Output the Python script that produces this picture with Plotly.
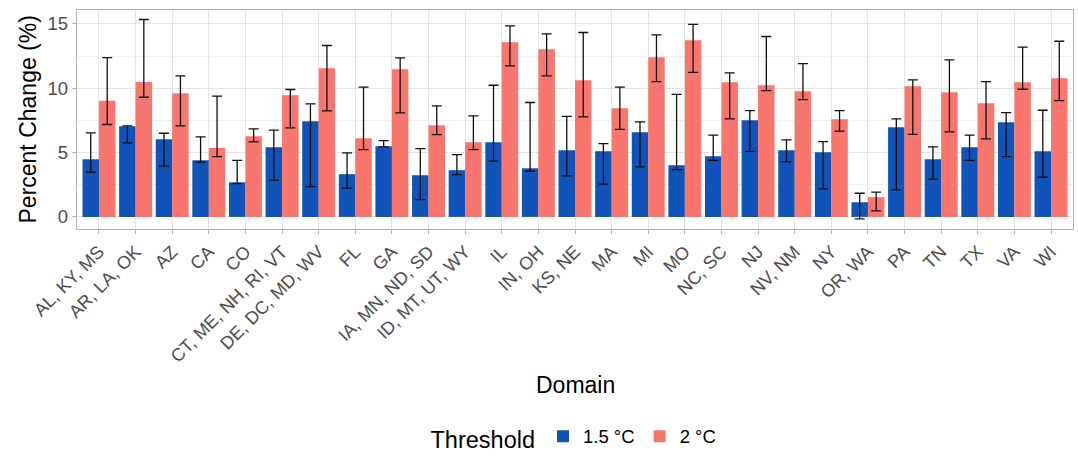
import plotly.graph_objects as go

domains = ["AL, KY, MS", "AR, LA, OK", "AZ", "CA", "CO", "CT, ME, NH, RI, VT",
           "DE, DC, MD, WV", "FL", "GA", "IA, MN, ND, SD", "ID, MT, UT, WY", "IL",
           "IN, OH", "KS, NE", "MA", "MI", "MO", "NC, SC", "NJ", "NV, NM", "NY",
           "OR, WA", "PA", "TN", "TX", "VA", "WI"]

t15_value = [4.48, 7.05, 6.04, 4.40, 2.69, 5.41, 7.44, 3.32, 5.49, 3.24, 3.63, 5.80, 3.78, 5.18,
             5.10, 6.58, 4.02, 4.72, 7.51, 5.18, 5.03, 1.14, 6.97, 4.48, 5.41, 7.36, 5.10]
t15_upper = [6.53, 7.07, 6.50, 6.22, 4.40, 6.74, 8.78, 4.97, 5.93, 5.31, 4.84, 10.23, 8.89, 7.82,
             5.70, 7.38, 9.53, 6.35, 8.26, 5.98, 5.85, 1.84, 7.62, 5.44, 6.35, 8.11, 8.29]
t15_lower = [3.47, 5.75, 3.94, 4.25, 2.59, 2.85, 2.36, 2.23, 5.44, 1.35, 3.29, 4.33, 3.55, 3.19,
             2.54, 3.89, 3.68, 4.40, 5.10, 4.27, 2.18, -0.16, 2.10, 2.93, 4.40, 4.69, 3.08]

t20_value = [9.02, 10.49, 9.61, 5.36, 6.27, 9.46, 11.55, 6.11, 11.48, 7.12, 5.80, 13.58, 13.03, 10.62,
             8.45, 12.41, 13.73, 10.47, 10.23, 9.77, 7.59, 1.53, 10.16, 9.69, 8.83, 10.47, 10.78]
t20_upper = [12.38, 15.34, 10.96, 9.38, 6.84, 9.90, 13.32, 10.08, 12.36, 8.63, 7.85, 14.84, 14.22, 14.33,
             10.08, 14.15, 14.97, 11.19, 14.02, 11.92, 8.26, 1.92, 10.65, 12.20, 10.52, 13.19, 13.65]
t20_lower = [7.18, 9.30, 7.07, 4.69, 5.83, 6.92, 8.24, 5.23, 8.08, 6.40, 5.23, 11.74, 10.96, 7.77,
             6.81, 10.52, 11.24, 7.62, 9.82, 9.12, 6.66, 0.47, 6.42, 6.61, 6.06, 9.92, 9.04]

series_names = ["1.5 °C", "2 °C"]
colors = ["#1053B9", "#F8766D"]

FONT = "Liberation Sans, Arial, Helvetica, sans-serif"

fig = go.Figure()
for name, color, val, up, lo in [
    (series_names[0], colors[0], t15_value, t15_upper, t15_lower),
    (series_names[1], colors[1], t20_value, t20_upper, t20_lower),
]:
    fig.add_trace(go.Bar(
        x=domains, y=val, name=name, marker=dict(color=color, line=dict(width=0)),
        error_y=dict(type="data", symmetric=False,
                     array=[u - v for u, v in zip(up, val)],
                     arrayminus=[v - l for v, l in zip(val, lo)],
                     color="#111111", thickness=1.3, width=5),
    ))

fig.update_layout(
    width=1078, height=457,
    margin=dict(l=77, r=5, t=10, b=228, autoexpand=False),
    paper_bgcolor="white", plot_bgcolor="white",
    barmode="group", bargap=0.1, bargroupgap=0.0,
    font=dict(family=FONT, color="black"),
    showlegend=True,
    legend=dict(orientation="h", x=0.5, xanchor="center", y=-0.955, yanchor="middle",
                title=dict(text="Threshold", side="left", font=dict(size=23.5, color="black")),
                font=dict(size=18.5, color="black"), itemwidth=30, traceorder="normal"),
    annotations=[
        dict(text="Domain", x=0.5, y=-0.712, xref="paper", yref="paper",
             xanchor="center", yanchor="middle", showarrow=False,
             font=dict(size=23, color="black", family=FONT)),
        dict(text="Percent Change (%)", x=-0.0502, y=0.5, xref="paper", yref="paper",
             xanchor="center", yanchor="middle", showarrow=False, textangle=-90,
             font=dict(size=23, color="black", family=FONT)),
    ],
)

fig.update_xaxes(
    type="category", categoryorder="array", categoryarray=domains,
    range=[-0.6, 26.6], tickangle=-45, automargin=False,
    tickfont=dict(size=18, color="#4D4D4D", family=FONT),
    showgrid=True, gridcolor="#E3E3E3", gridwidth=1,
    ticks="outside", ticklen=4, tickcolor="#B3B3B3", tickwidth=1,
    showline=True, mirror=True, linecolor="#B3B3B3", linewidth=1.3,
    zeroline=False,
)
fig.update_yaxes(
    range=[-0.94, 16.08], tickvals=[0, 5, 10, 15], ticktext=["0", "5", "10", "15"],
    automargin=False,
    tickfont=dict(size=18.5, color="#4D4D4D", family=FONT),
    showgrid=True, gridcolor="#E3E3E3", gridwidth=1,
    minor=dict(tickvals=[2.5, 7.5, 12.5], showgrid=True, gridcolor="#EFEFEF", gridwidth=0.8, ticks=""),
    ticks="outside", ticklen=4, tickcolor="#B3B3B3", tickwidth=1,
    showline=True, mirror=True, linecolor="#B3B3B3", linewidth=1.3,
    zeroline=False,
)

fig.write_html("out.html", config={"displayModeBar": False},
               post_script="document.body.style.margin='0px';document.body.style.overflow='hidden';")
